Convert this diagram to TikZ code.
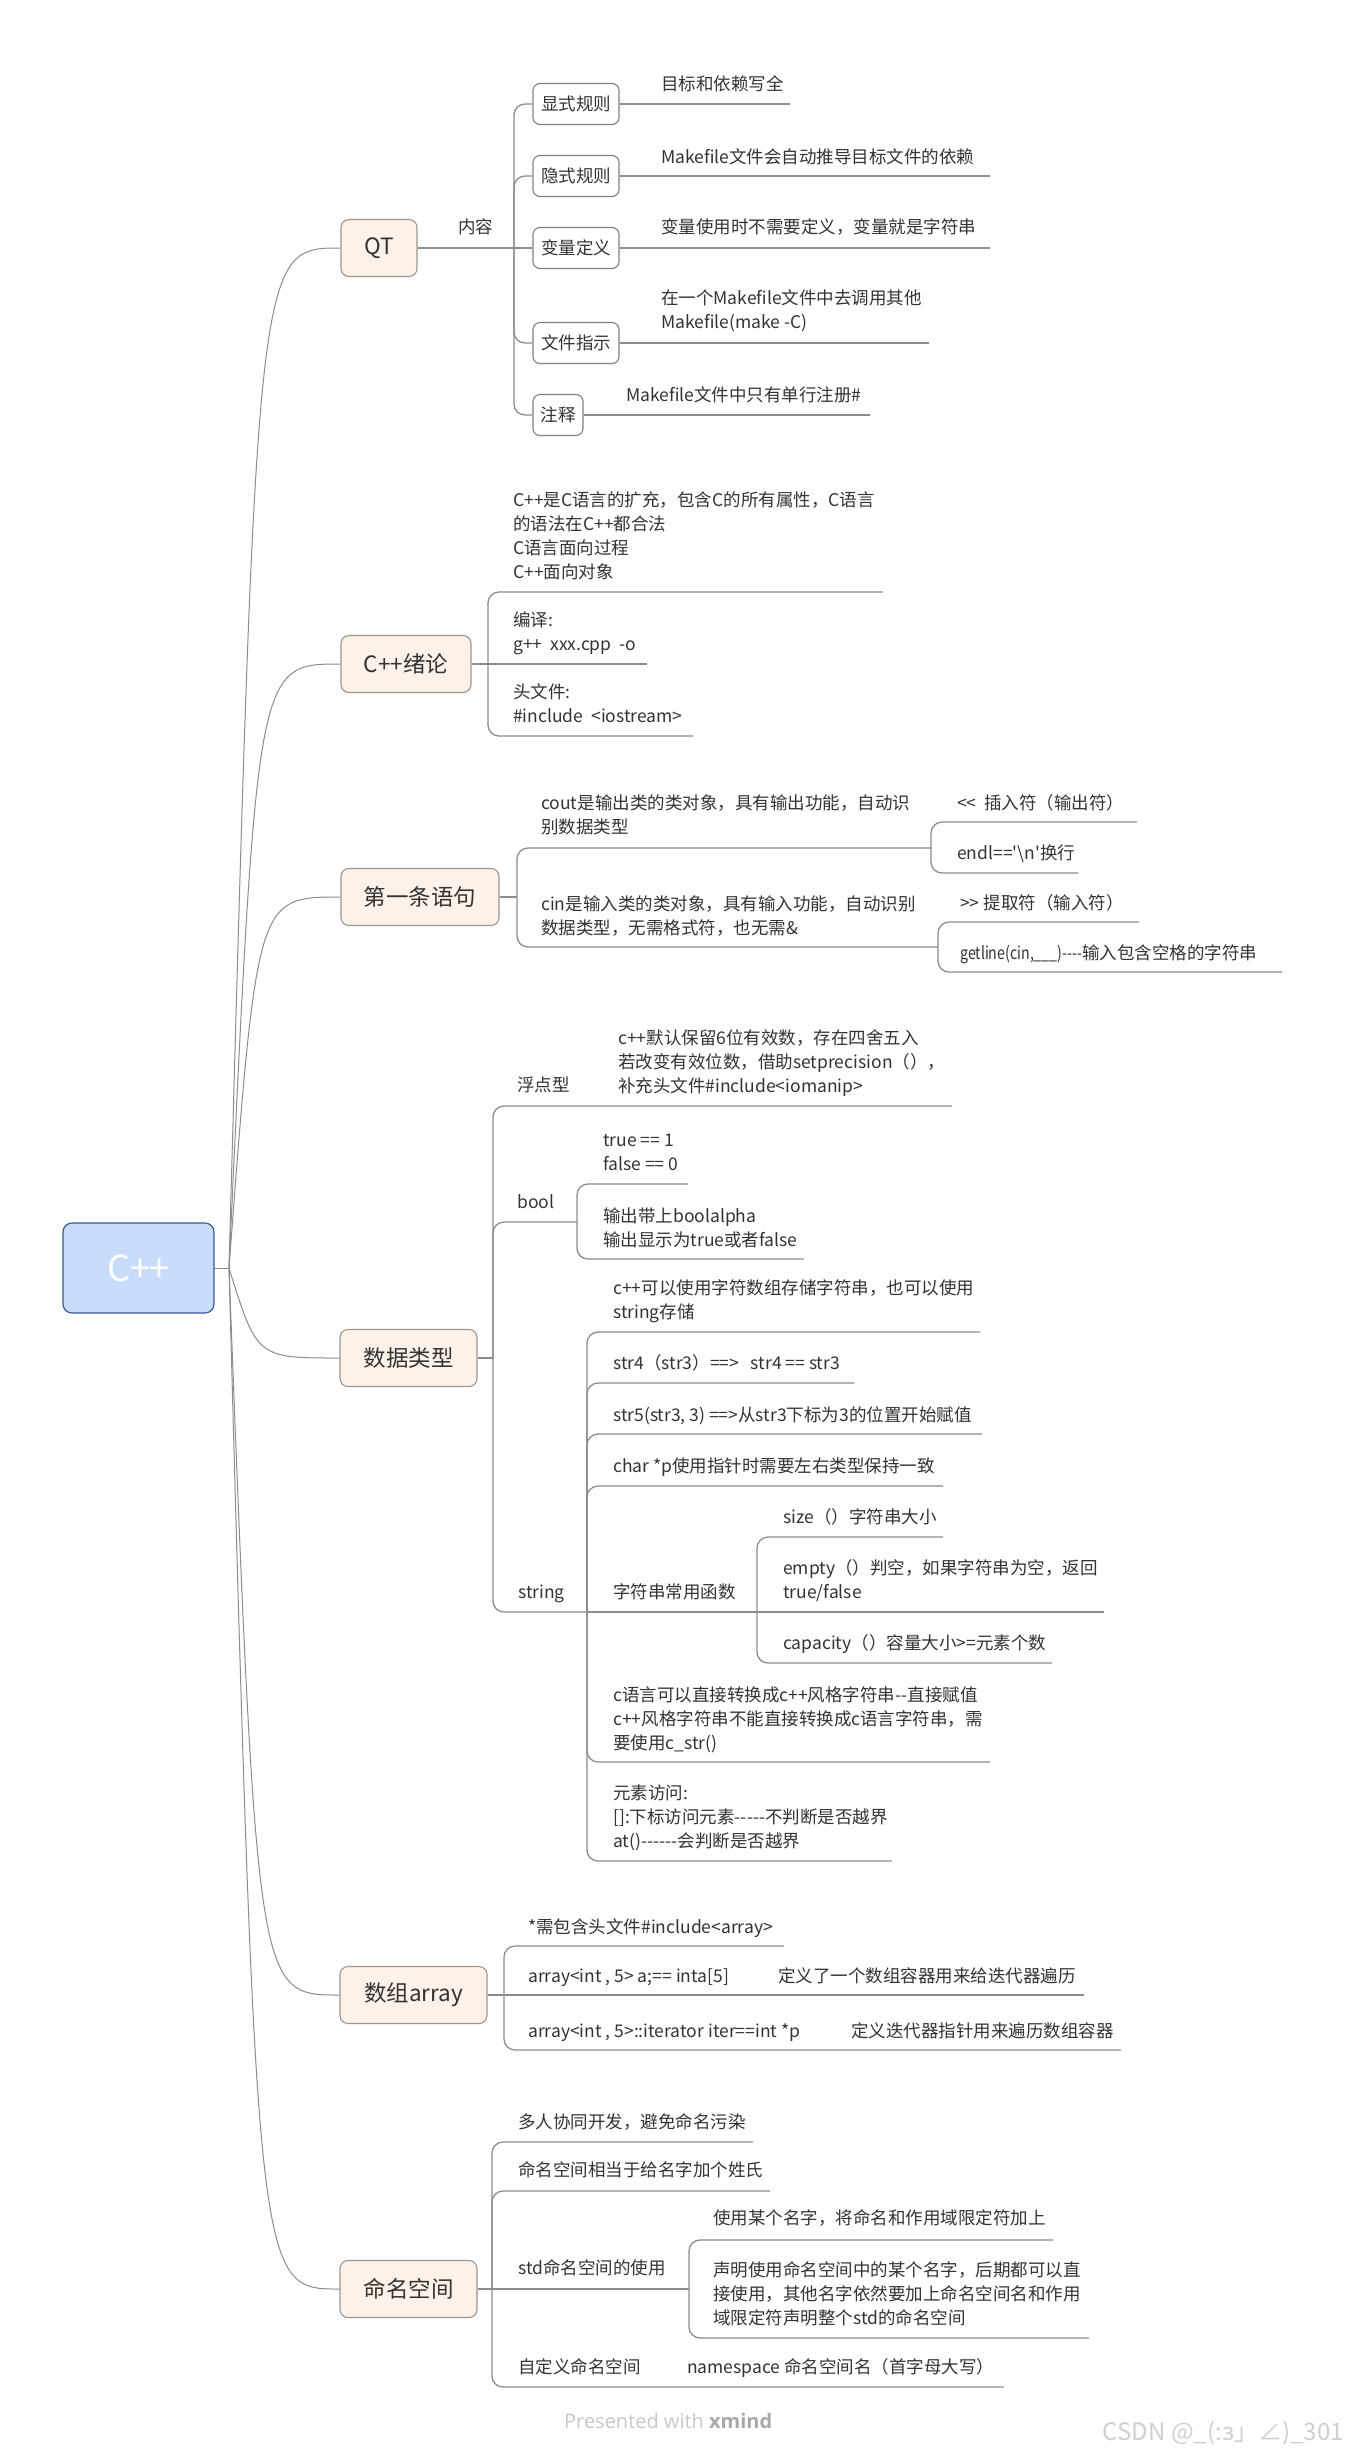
\documentclass[tikz,border=0pt]{standalone}
\usepackage{fontspec}
\usepackage{graphicx}
\setmainfont{Noto Sans CJK SC}[Ligatures=TeXOff]
\newfontfamily\wmfont{Open Sans}[Ligatures=TeXOff]
\definecolor{linegray}{HTML}{8C8C8C}
\definecolor{topicfill}{HTML}{FDF2E9}
\definecolor{topicborder}{HTML}{A0958C}
\definecolor{rootfill}{HTML}{C9DCFB}
\definecolor{rootborder}{HTML}{3D5994}
\definecolor{txt}{HTML}{333333}
\definecolor{boxborder}{HTML}{808080}
\definecolor{wmlight}{HTML}{C8C8C8}
\definecolor{wmdark}{HTML}{A8A8A8}
\definecolor{csdn}{HTML}{CFCFCF}
\begin{document}
\begin{tikzpicture}[x=1pt,y=-1pt,
  rootbox/.style={draw=rootborder, fill=rootfill, rounded corners=9pt, line width=1.2pt,
    minimum width=151pt, minimum height=90pt, inner sep=0pt, text=white,
    font=\fontsize{36}{40}\selectfont},
  topic/.style={draw=topicborder, fill=topicfill, rounded corners=8pt, line width=1.1pt,
    minimum height=57pt, inner sep=0pt, text=txt, font=\fontsize{22.5}{27}\selectfont},
  subbox/.style={draw=boxborder, fill=white, rounded corners=7pt, line width=1.1pt,
    minimum height=41pt, inner sep=0pt, text=txt, font=\fontsize{17.5}{24}\selectfont},
  lbl/.style={anchor=base west, inner sep=0pt, align=left, text=txt,
    font=\fontsize{17.5}{24}\selectfont},
  conn/.style={draw=linegray, line width=1.3pt, rounded corners=11pt},
  curve/.style={draw=linegray, line width=1pt}
]
\useasboundingbox (0,0) rectangle (1346,2458);
\fill[white] (0,0) rectangle (1346,2458);

% ---------- root and main topics ----------
\node[rootbox] (root) at (138.5,1268) {C++};
\node[topic, minimum width=76pt]  (qt)    at (379,248)   {QT};
\node[topic, minimum width=130pt] (intro) at (406,664)   {C++绪论};
\node[topic, minimum width=158pt] (first) at (420,897)   {第一条语句};
\node[topic, minimum width=137pt] (dtype) at (408.5,1358) {数据类型};
\node[topic, minimum width=147pt] (arr)   at (413.5,1995) {数组array};
\node[topic, minimum width=137pt] (ns)    at (408.5,2289) {命名空间};

\coordinate (fan) at (229,1268);
\coordinate (fanc) at (257,1268);
\draw[curve] (root.east) -- (fan);
\foreach \t in {qt,intro,first,dtype,arr,ns}{
  \draw[curve] (fan) .. controls (fanc |- \t.west) .. (\t.west);
}

% ---------- QT ----------
\node[lbl] (neirong) at (458,233.5) {内容};
\node[subbox, minimum width=86pt] (r1) at (576,104) {显式规则};
\node[subbox, minimum width=86pt] (r2) at (576,176) {隐式规则};
\node[subbox, minimum width=86pt] (r3) at (576,248) {变量定义};
\node[subbox, minimum width=86pt] (r4) at (576,343) {文件指示};
\node[subbox, minimum width=50pt] (r5) at (558,415) {注释};
\draw[conn] (qt.east) -- (r3.west);
\foreach \b in {r1,r2,r4,r5}{ \draw[conn] (514,248) |- (\b.west); }

\node[lbl] (t1) at (661,90.5)  {目标和依赖写全};
\node[lbl] (t2) at (661,163.5) {Makefile文件会自动推导目标文件的依赖};
\node[lbl] (t3) at (661,233.5) {变量使用时不需要定义，变量就是字符串};
\node[lbl] (t4) at (661,328.5) {在一个Makefile文件中去调用其他\\Makefile(make -C)};
\node[lbl] (t5) at (626,401.5) {Makefile文件中只有单行注册\#};
\draw[conn] (r1.east) -- (790,104);
\draw[conn] (r2.east) -- (990,176);
\draw[conn] (r3.east) -- (990,248);
\draw[conn] (r4.east) -- (929,343);
\draw[conn] (r5.east) -- (870,415);

% ---------- C++绪论 ----------
\node[lbl] (i1) at (513,578.5) {C++是C语言的扩充，包含C的所有属性，C语言\\的语法在C++都合法\\C语言面向过程\\C++面向对象};
\node[lbl] (i2) at (513,650.5) {编译:\\g++\ \ xxx.cpp\ \ -o};
\node[lbl] (i3) at (513,722.5) {头文件:\\\#include\ \ <iostream>};
\draw[conn] (intro.east) -- (647,664);
\draw[conn] (488,664) |- (883,592);
\draw[conn] (488,664) |- (693,736);

% ---------- 第一条语句 ----------
\node[lbl] (c1) at (541,833.5) {cout是输出类的类对象，具有输出功能，自动识\\别数据类型};
\node[lbl] (c2) at (957,809.5) {<<\ \ 插入符（输出符）};
\node[lbl] (c3) at (957,859.5) {endl=='\textbackslash n'换行};
\node[lbl] (c4) at (541,934.5) {cin是输入类的类对象，具有输入功能，自动识别\\数据类型，无需格式符，也无需\&};
\node[lbl] (c5) at (960,909.5) {>> 提取符（输入符）};
\node[lbl] (c6) at (960,959.5) {\scalebox{0.81}[1]{getline(cin,\_\_\_)----}输入包含空格的字符串};
\draw[conn] (first.east) -- (517,897);
\draw[conn] (517,897) |- (931,848);
\draw[conn] (517,897) |- (938,947);
\draw[conn] (931,848) |- (1137,822);
\draw[conn] (931,848) |- (1078,873);
\draw[conn] (938,947) |- (1139,922);
\draw[conn] (938,947) |- (1282,972);

% ---------- 数据类型 ----------
\node[lbl] (d1)  at (517,1091.5) {浮点型};
\node[lbl] (d1a) at (618,1092.5) {c++默认保留6位有效数，存在四舍五入\\若改变有效位数，借助setprecision（），\\补充头文件\#include<iomanip>};
\node[lbl] (d2)  at (517,1208.5) {bool};
\node[lbl] (d2a) at (603,1170.5) {true == 1\\false == 0};
\node[lbl] (d2b) at (603,1246.5) {输出带上boolalpha\\输出显示为true或者false};
\node[lbl] (d3)  at (518,1598.5) {string};
\node[lbl] (s1) at (613,1318.5) {c++可以使用字符数组存储字符串，也可以使用\\string存储};
\node[lbl] (s2) at (613,1369.5) {str4（str3）==>\ \ \ str4 == str3};
\node[lbl] (s3) at (613,1421.5) {str5(str3, 3) ==>从str3下标为3的位置开始赋值};
\node[lbl] (s4) at (613,1472.5) {char *p使用指针时需要左右类型保持一致};
\node[lbl] (s5) at (613,1598.5) {字符串常用函数};
\node[lbl] (s5a) at (783,1523.5) {size（）字符串大小};
\node[lbl] (s5b) at (783,1598.5) {empty（）判空，如果字符串为空，返回\\true/false};
\node[lbl] (s5c) at (783,1649.5) {capacity（）容量大小>=元素个数};
\node[lbl] (s6) at (613,1749.5) {c语言可以直接转换成c++风格字符串--直接赋值\\c++风格字符串不能直接转换成c语言字符串，需\\要使用c\_str()};
\node[lbl] (s7) at (613,1847.5) {元素访问:\\{[]}:下标访问元素-----不判断是否越界\\at()------会判断是否越界};

\draw[conn] (dtype.east) -- (493,1358);
\draw[conn] (493,1358) |- (952,1106);
\draw[conn] (493,1358) |- (577,1222);
\draw[conn] (493,1358) |- (587,1612);
\draw[conn] (577,1222) |- (688,1184);
\draw[conn] (577,1222) |- (804,1259);
\draw[conn] (587,1612) |- (980,1332);
\draw[conn] (587,1612) |- (854,1383);
\draw[conn] (587,1612) |- (982,1434);
\draw[conn] (587,1612) |- (943,1486);
\draw[conn] (587,1612) -- (757,1612);
\draw[conn] (587,1612) |- (990,1762);
\draw[conn] (587,1612) |- (892,1861);
\draw[conn] (757,1612) |- (943,1537);
\draw[conn] (757,1612) -- (1104,1612);
\draw[conn] (757,1612) |- (1052,1663);

% ---------- 数组array ----------
\node[lbl] (a1)  at (528,1933.5) {*需包含头文件\#include<array>};
\node[lbl] (a2)  at (528,1982.5) {array<int , 5> a;== inta[5]};
\node[lbl] (a2b) at (778,1982.5) {定义了一个数组容器用来给迭代器遍历};
\node[lbl] (a3)  at (528,2037.5) {array<int , 5>::iterator iter==int *p};
\node[lbl] (a3b) at (851,2037.5) {定义迭代器指针用来遍历数组容器};
\draw[conn] (arr.east) -- (1084,1995);
\draw[conn] (504,1995) |- (784,1946);
\draw[conn] (504,1995) |- (1121,2050);

% ---------- 命名空间 ----------
\node[lbl] (n1)  at (518,2128.5) {多人协同开发，避免命名污染};
\node[lbl] (n2)  at (518,2176.5) {命名空间相当于给名字加个姓氏};
\node[lbl] (n3)  at (518,2274.5) {std命名空间的使用};
\node[lbl] (n3a) at (713,2224.5) {使用某个名字，将命名和作用域限定符加上};
\node[lbl] (n3b) at (713,2324.5) {声明使用命名空间中的某个名字，后期都可以直\\接使用，其他名字依然要加上命名空间名和作用\\域限定符声明整个std的命名空间};
\node[lbl] (n4)  at (518,2373.5) {自定义命名空间};
\node[lbl] (n4a) at (687,2373.5) {namespace 命名空间名（首字母大写）};
\draw[conn] (ns.east) -- (689,2289);
\draw[conn] (492,2289) |- (753,2142);
\draw[conn] (492,2289) |- (770,2191);
\draw[conn] (492,2289) |- (1004,2387);
\draw[conn] (689,2289) |- (1053,2240);
\draw[conn] (689,2289) |- (1089,2338);

% ---------- watermarks ----------
\node[anchor=west, inner sep=0pt, text=wmlight, font=\wmfont\fontsize{20}{24}\selectfont] (pw) at (564,2421) {Presented with {\color{wmdark}\bfseries xmind}};
\node[anchor=east, inner sep=0pt, text=csdn, font=\fontsize{24}{28}\selectfont] (cs) at (1344,2433) {CSDN @\_(:з」∠)\_301};
\end{tikzpicture}
\end{document}
